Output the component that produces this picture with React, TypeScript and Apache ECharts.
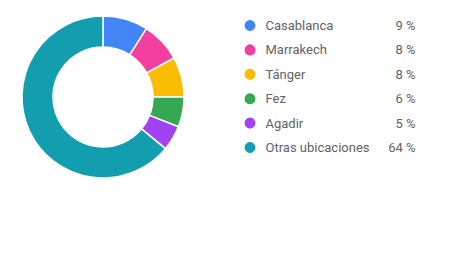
import React, { useEffect, useRef } from "react";
import * as echarts from "echarts";

const categories = ["Casablanca", "Marrakech", "Tánger", "Fez", "Agadir", "Otras ubicaciones"];
const values = [9, 8, 8, 6, 5, 64];
const colors = ["#4285F4", "#F33FA0", "#FBBC04", "#34A853", "#A142F4", "#129EAF"];

export default function App() {
  const ref = useRef<HTMLDivElement>(null);
  useEffect(() => {
    const chart = echarts.init(ref.current!, null, { renderer: "svg" });
    const pctByName: Record<string, number> = {};
    categories.forEach((c, i) => (pctByName[c] = values[i]));
    chart.setOption({
      animation: false,
      color: colors,
      legend: {
        orient: "vertical",
        left: 234.5,
        top: 10,
        padding: 0,
        icon: "circle",
        itemWidth: 13,
        itemHeight: 13,
        itemGap: 9.4,
        selectedMode: false,
        data: categories,
        formatter: (name: string) => `{n|${name}}{p|${pctByName[name]} %}`,
        textStyle: {
          fontFamily: "Roboto",
          fontSize: 13,
          color: "#5f6368",
          rich: {
            n: { width: 119, padding: [0, 0, 0, 4], fontFamily: "Roboto", fontSize: 13, color: "#5f6368" },
            p: { width: 31, align: "right", fontFamily: "Roboto", fontSize: 13, color: "#5f6368" },
          },
        },
      },
      series: [
        {
          type: "pie",
          center: [95, 89],
          radius: [50, 81],
          startAngle: 90,
          clockwise: true,
          label: { show: false },
          labelLine: { show: false },
          emphasis: { disabled: true },
          itemStyle: { borderColor: "#fff", borderWidth: 1.5 },
          data: categories.map((c, i) => ({ name: c, value: values[i] })),
        },
      ],
    });
    return () => chart.dispose();
  }, []);
  return <div ref={ref} style={{ width: 466, height: 254 }} />;
}
